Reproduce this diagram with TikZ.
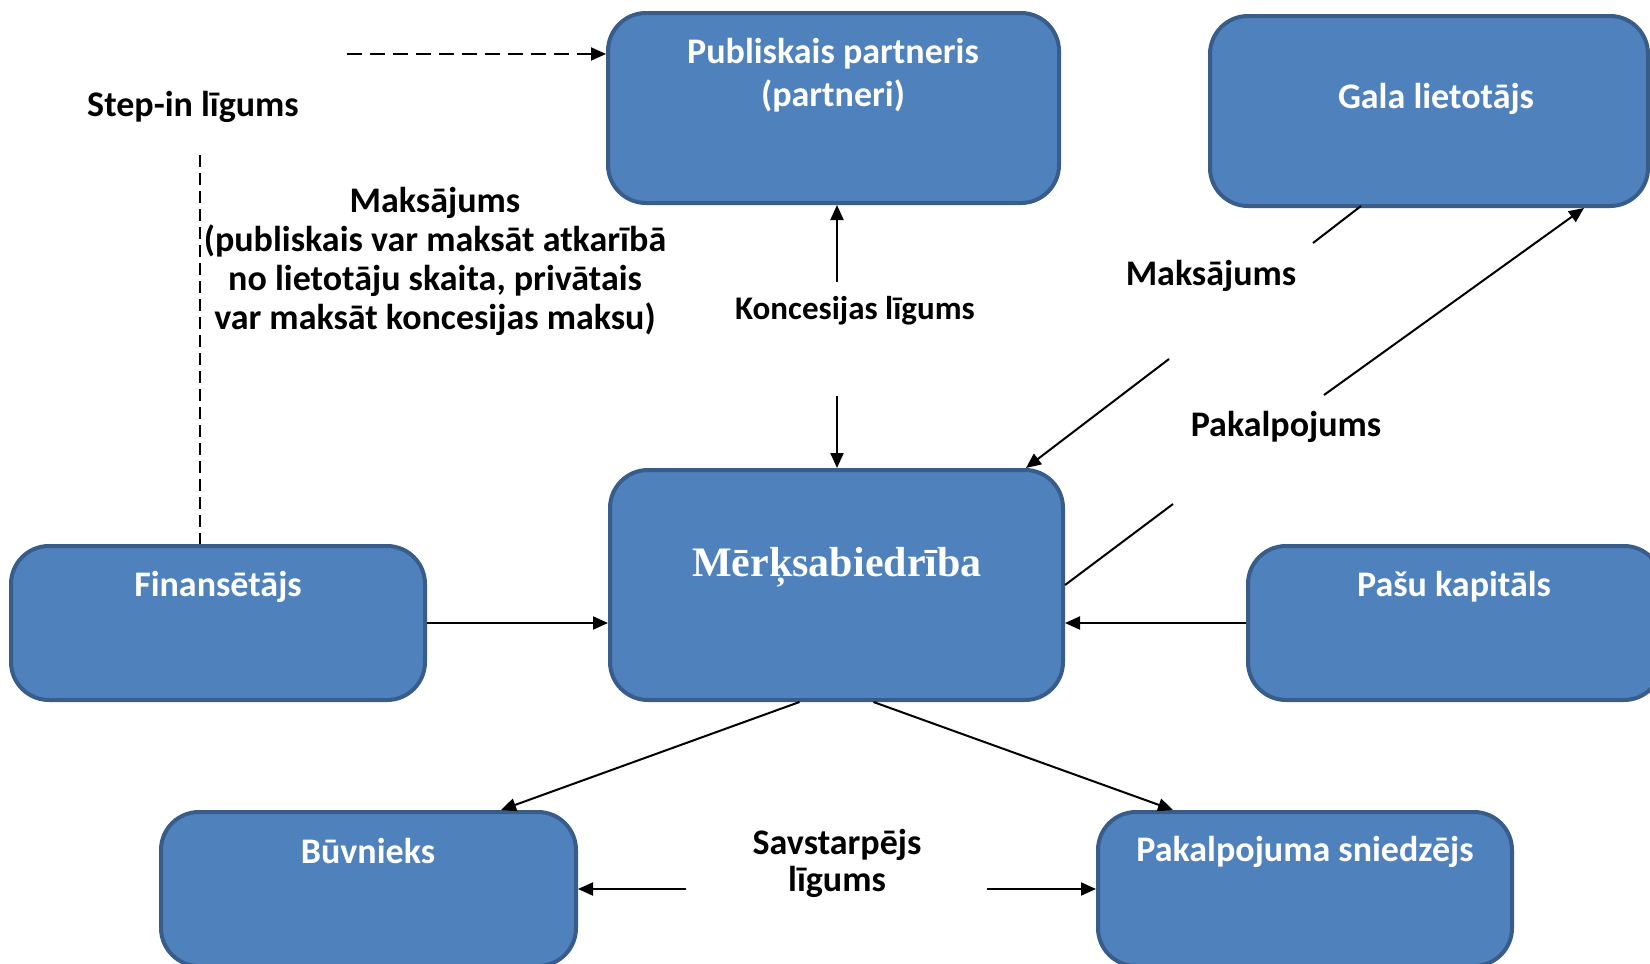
\documentclass[tikz,border=0pt]{standalone}
\usepackage{fontspec}
\setmainfont{Carlito}
\newfontfamily\merkfont{Liberation Serif}
\usetikzlibrary{arrows.meta}
\definecolor{boxfill}{HTML}{4F81BD}
\definecolor{boxline}{HTML}{385D8A}
\begin{document}
\begin{tikzpicture}[x=1pt,y=-1pt,
  box/.style={draw=boxline, fill=boxfill, line width=4pt, rounded corners=38pt, inner sep=0pt},
  wtext/.style={text=white, font=\fontsize{36}{43}\selectfont\bfseries, align=center, inner sep=0pt},
  btext/.style={text=black, font=\fontsize{36}{39}\selectfont\bfseries, align=center, inner sep=0pt},
  conn/.style={line width=2pt, -{Triangle[length=15pt,width=13pt]}},
  plainline/.style={line width=2pt},
  dashconn/.style={line width=2pt, dash pattern=on 15pt off 8pt, -{Triangle[length=15pt,width=13pt]}},
  dashline/.style={line width=1.5pt, dash pattern=on 12pt off 6pt}]
\useasboundingbox (0,0) rectangle (1650,964);

% boxes
\node[box, minimum width=451pt, minimum height=190pt] (pub) at (833.5,108) {};
\node[box, minimum width=438pt, minimum height=190pt] (gala) at (1429,111) {};
\node[box, minimum width=453pt, minimum height=230pt] (merk) at (836.5,585) {};
\node[box, minimum width=414pt, minimum height=154pt] (fin) at (218,623) {};
\node[box, minimum width=414pt, minimum height=154pt] (pasu) at (1455,623) {};
\node[box, minimum width=415pt, minimum height=154pt] (buv) at (368.5,889) {};
\node[box, minimum width=414pt, minimum height=154pt] (pak) at (1305,889) {};

% box texts
\node[wtext] (pubt) at (833,75) {Publiskais partneris\\(partneri)};
\node[wtext] (galat) at (1436,99) {Gala lietotājs};
\node[text=white, inner sep=0pt, font=\merkfont\fontsize{42}{48}\selectfont\bfseries] (merkt) at (837,567) {Mērķsabiedrība};
\node[wtext] (fint) at (218,587) {Finansētājs};
\node[wtext] (pasut) at (1454,587) {Pašu kapitāls};
\node[wtext] (buvt) at (368,851) {Būvnieks};
\node[wtext] (pakt) at (1305,852) {Pakalpojuma sniedzējs};

% free labels
\node[btext] (stepin) at (193,107) {Step-in līgums};
\node[btext] (maks1) at (435,261) {Maksājums\\(publiskais var maksāt atkarībā\\no lietotāju skaita, privātais\\var maksāt koncesijas maksu)};
\node[btext, font=\fontsize{33}{39}\selectfont\bfseries] (konc) at (855,311) {Koncesijas līgums};
\node[btext] (maks2) at (1211,276) {Maksājums};
\node[btext] (pakal) at (1286,427) {Pakalpojums};
\node[btext, font=\fontsize{36}{37}\selectfont\bfseries] (savt) at (837,863) {Savstarpējs\\līgums};

% connector points
\coordinate (d1) at (347,54);
\coordinate (d2) at (200,155);
\coordinate (k1) at (837,282);
\coordinate (k2) at (837,396);
\coordinate (m1) at (1361,206);
\coordinate (m2) at (1313,243);
\coordinate (m3) at (1169,359);
\coordinate (p1) at (1173,504);
\coordinate (p2) at (1324,395);
\coordinate (s1) at (686,889);
\coordinate (s2) at (987,889);

% connectors
\draw[dashconn] (d1) -- (d1 -| pub.west);
\draw[dashline] (d2) -- (d2 |- fin.north);
\draw[conn] (k1) -- (k1 |- pub.south);
\draw[conn] (k2) -- (k2 |- merk.north);
\draw[plainline] (m1) -- (m2);
\draw[conn] (m3) -- ([xshift=189.5pt]merk.north);
\draw[plainline] (merk.east) -- (p1);
\draw[conn] (p2) -- ([xshift=155pt]gala.south);
\draw[conn] (fin.east) -- (fin.east -| merk.west);
\draw[conn] (pasu.west) -- (pasu.west -| merk.east);
\draw[conn] ([xshift=-37pt]merk.south) -- ([xshift=132.5pt]buv.north);
\draw[conn] ([xshift=37pt]merk.south) -- ([xshift=-132pt]pak.north);
\draw[conn] (s1) -- (s1 -| buv.east);
\draw[conn] (s2) -- (s2 -| pak.west);
\end{tikzpicture}
\end{document}
